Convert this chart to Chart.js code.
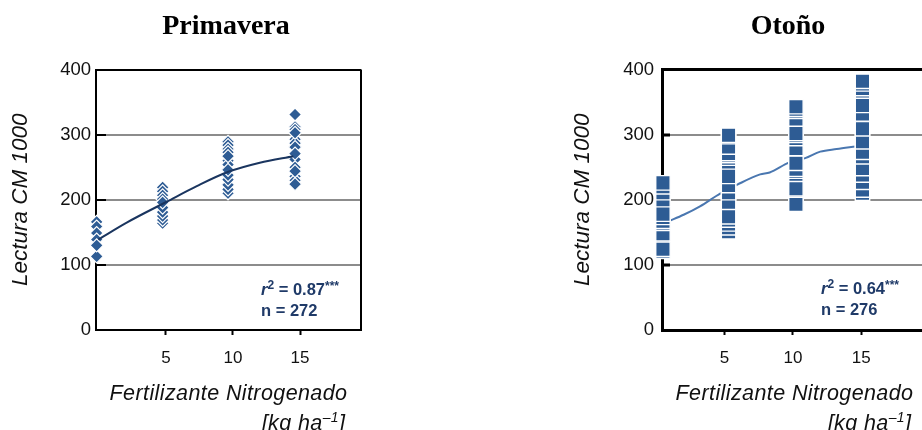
<!DOCTYPE html>
<html>
<head>
<meta charset="utf-8">
<title>Lectura CM 1000 - Primavera / Otoño</title>
<style>
  html, body { margin: 0; padding: 0; background: #fff; overflow: hidden; }
  #page { position: relative; width: 922px; height: 430px; overflow: hidden; }
  .panel { position: absolute; top: 0; }
</style>
</head>
<body>
<div id="page">
  <div class="panel" style="left:0px"><canvas id="primavera" width="452" height="430"></canvas></div>
  <div class="panel" style="left:560px"><canvas id="otono" width="456" height="430"></canvas></div>
</div>
<script src="https://cdn.jsdelivr.net/npm/chart.js"></script>
<script>
// ejes
var xTicks = [5, 10, 15];
var yTicks = [0, 100, 200, 300, 400];
var yTitle = 'Lectura CM 1000';
var xTitle = ['Fertilizante Nitrogenado', '[kg ha', '\u20131', ']'];

// Primavera: posicion de cada columna y lecturas (en el orden en que se dibujan)
var primX = [-0.17, 4.75, 9.63, 14.63];
var prim0 = [166, 159, 149, 139, 113, 130];
var prim5 = [219, 213, 207, 201, 164, 169, 175, 181, 188, 196];
var prim10 = [289, 284, 278, 273, 260, 254, 267, 210, 216, 223, 231, 238, 246];
var prim15 = [312, 308, 331, 293, 287, 281, 303, 262, 250, 271, 236, 230, 244, 224];
var primFitX = [-0.05, 2.07, 5.05, 7.3, 9.65, 12.0, 14.5];
var primFitY = [139, 165, 197, 221, 243, 257, 267];
var primNote = ['0.87', '272'];

// Otoño (las primeras lecturas de cada columna quedan tapadas por las siguientes)
var otoX = [0.49, 5.29, 10.22, 15.09];
var oto0 = [136, 195, 121, 124, 148, 164, 167, 173, 178, 211, 220, 226];
var oto5 = [192, 250, 151, 157, 163, 169, 174, 211, 222, 236, 264, 268, 271, 281, 297, 299];
var oto10 = [204, 230, 267, 319, 193, 215, 217, 244, 247, 256, 279, 294, 299, 302, 336, 339, 343];
var oto15 = [320, 358, 210, 215, 227, 238, 248, 266, 273, 289, 309, 332, 345, 371, 378, 382];
var otoFitX = [0.9, 2.0, 3.2, 4.7, 5.9, 7.6, 8.3, 9.7, 10.9, 12.0, 13.2, 14.6];
var otoFitY = [167, 177, 190, 210, 223, 239, 242, 257, 264, 274, 278, 282];
var otoNote = ['0.64', '276'];

var FONT = "'Liberation Sans', Arial, sans-serif";
Chart.defaults.font.family = FONT;
Chart.defaults.color = '#111';

function columns(xs, lists) {
    var pts = [];
    lists.forEach(function (list, i) {
        list.forEach(function (v) { pts.push({x: xs[i], y: v}); });
    });
    return pts;
}

function pairs(xs, ys) {
    return xs.map(function (x, i) { return {x: x, y: ys[i]}; });
}

// ticks hacia dentro en el eje y, y borde derecho
var framePlugin = {
    id: 'frame',
    beforeDatasetsDraw: function (chart, args, o) {
        var ctx = chart.ctx, a = chart.chartArea, y = chart.scales.y;
        ctx.save();
        ctx.strokeStyle = '#000';
        ctx.lineWidth = o.width;
        ctx.beginPath();
        yTicks.forEach(function (v) {
            if (v === 0 || v === 400) return;
            var py = Math.round(y.getPixelForValue(v));
            ctx.moveTo(a.left, py);
            ctx.lineTo(a.left + o.tick, py);
        });
        if (o.right) {
            ctx.moveTo(a.right, a.top);
            ctx.lineTo(a.right, a.bottom);
        }
        ctx.stroke();
        ctx.restore();
    }
};

function runsWidth(ctx, runs) {
    var w = 0;
    runs.forEach(function (r) { ctx.font = r[1]; w += ctx.measureText(r[0]).width; });
    return w;
}

function drawRuns(ctx, runs, x, y) {
    runs.forEach(function (r) {
        ctx.font = r[1];
        ctx.fillText(r[0], x, y - (r[2] || 0));
        x += ctx.measureText(r[0]).width;
    });
}

var textPlugin = {
    id: 'texts',
    afterDraw: function (chart, args, o) {
        var ctx = chart.ctx, a = chart.chartArea;
        var cx = (a.left + a.right) / 2;
        var it = 'italic 21.5px ' + FONT, itSmall = 'italic 14px ' + FONT;
        ctx.save();
        ctx.textBaseline = 'alphabetic';
        ctx.textAlign = 'left';
        ctx.fillStyle = '#111';
        ctx.letterSpacing = '0.4px';
        ctx.font = it;
        var w = ctx.measureText(xTitle[0]).width;
        ctx.fillText(xTitle[0], cx - w / 2, o.titleY);
        var unit = [[xTitle[1], it], [xTitle[2], itSmall, 8], [xTitle[3], it]];
        drawRuns(ctx, unit, cx + w / 2 - runsWidth(ctx, unit) - 2, o.titleY + 30);
        ctx.letterSpacing = '0px';

        ctx.fillStyle = '#1f3a68';
        var big = 'bold 16.5px ' + FONT, small = 'bold 12px ' + FONT;
        drawRuns(ctx, [['r', 'italic ' + big], ['2', small, 6], [' = ' + o.note[0], big], ['***', small, 5]], o.noteX, o.noteY[0]);
        drawRuns(ctx, [['n = ' + o.note[1], big]], o.noteX, o.noteY[1]);
        ctx.restore();
    }
};

function makePanel(id, cfg) {
    new Chart(document.getElementById(id), {
        type: 'scatter',
        data: {
            datasets: [{
                data: columns(cfg.colX, cfg.cols),
                pointStyle: cfg.marker,
                pointRadius: cfg.radius,
                pointHoverRadius: cfg.radius,
                backgroundColor: '#2e5c94',
                borderColor: '#ffffff',
                borderWidth: cfg.markerBorder,
                clip: false,
                order: cfg.lineOnTop ? 1 : 0
            }, {
                data: pairs(cfg.fitX, cfg.fitY),
                showLine: true,
                borderColor: cfg.lineColor,
                borderWidth: 2,
                pointRadius: 0,
                cubicInterpolationMode: 'monotone',
                order: cfg.lineOnTop ? 0 : 1
            }]
        },
        options: {
            responsive: false,
            animation: false,
            events: [],
            layout: { padding: 0 },
            scales: {
                x: {
                    type: 'linear',
                    min: cfg.xMin,
                    max: cfg.xMax,
                    afterBuildTicks: function (s) { s.ticks = xTicks.map(function (v) { return {value: v}; }); },
                    afterFit: function (s) { s.height = 100; },
                    grid: { drawOnChartArea: false, drawTicks: true, tickLength: 5, tickColor: '#000', tickWidth: 2 },
                    border: { color: '#000', width: cfg.frame },
                    ticks: { padding: 13, color: '#111', font: { size: 17 } }
                },
                y: {
                    min: 0,
                    max: 400,
                    afterBuildTicks: function (s) { s.ticks = yTicks.map(function (v) { return {value: v}; }); },
                    afterFit: function (s) { s.width = cfg.yWidth; },
                    grid: {
                        drawTicks: false,
                        color: function (c) {
                            if (c.tick.value === 400) return '#000';
                            if (c.tick.value === 0) return 'rgba(0,0,0,0)';
                            return '#8c8c8c';
                        },
                        lineWidth: function (c) { return c.tick.value === 400 ? cfg.frame : 2; }
                    },
                    border: { color: '#000', width: cfg.frame },
                    ticks: { padding: cfg.yPad, color: '#111', font: { size: 18.5 } },
                    title: {
                        display: true,
                        text: yTitle,
                        color: '#111',
                        font: { size: 22.5, style: 'italic' },
                        padding: { top: cfg.titlePad, bottom: 0 }
                    }
                },
                yr: {
                    position: 'right',
                    afterFit: function (s) { s.width = cfg.rWidth; },
                    ticks: { display: false },
                    grid: { display: false },
                    border: { display: false }
                }
            },
            plugins: {
                legend: { display: false },
                tooltip: { enabled: false },
                title: {
                    display: true,
                    text: cfg.title,
                    color: '#000',
                    font: { family: "'Liberation Serif', serif", size: 28, weight: 'bold' },
                    padding: { top: 10, bottom: 26 }
                },
                frame: { width: cfg.frame, tick: cfg.tick, right: cfg.rightBorder },
                texts: { titleY: 400, note: cfg.note, noteX: cfg.noteX, noteY: cfg.noteY }
            }
        },
        plugins: [framePlugin, textPlugin]
    });
}

makePanel('primavera', {
    title: 'Primavera',
    colX: primX, cols: [prim0, prim5, prim10, prim15],
    fitX: primFitX, fitY: primFitY, note: primNote,
    marker: 'rectRot', radius: 6.5, markerBorder: 1.2,
    lineColor: '#1a355f', lineOnTop: true,
    xMin: -0.22, xMax: 19.55,
    yWidth: 96, rWidth: 91, yPad: 5, titlePad: 7,
    frame: 2, tick: 10, rightBorder: true,
    noteX: 261, noteY: [295, 316]
});

makePanel('otono', {
    title: 'Otoño',
    colX: otoX, cols: [oto0, oto5, oto10, oto15],
    fitX: otoFitX, fitY: otoFitY, note: otoNote,
    marker: 'rect', radius: 10.2, markerBorder: 1.4,
    lineColor: '#4a77b0', lineOnTop: false,
    xMin: 0.42, xMax: 19.81,
    yWidth: 102, rWidth: 89, yPad: 8, titlePad: 9.5,
    frame: 3, tick: 8, rightBorder: false,
    noteX: 261, noteY: [294, 315]
});
</script>
</body>
</html>
